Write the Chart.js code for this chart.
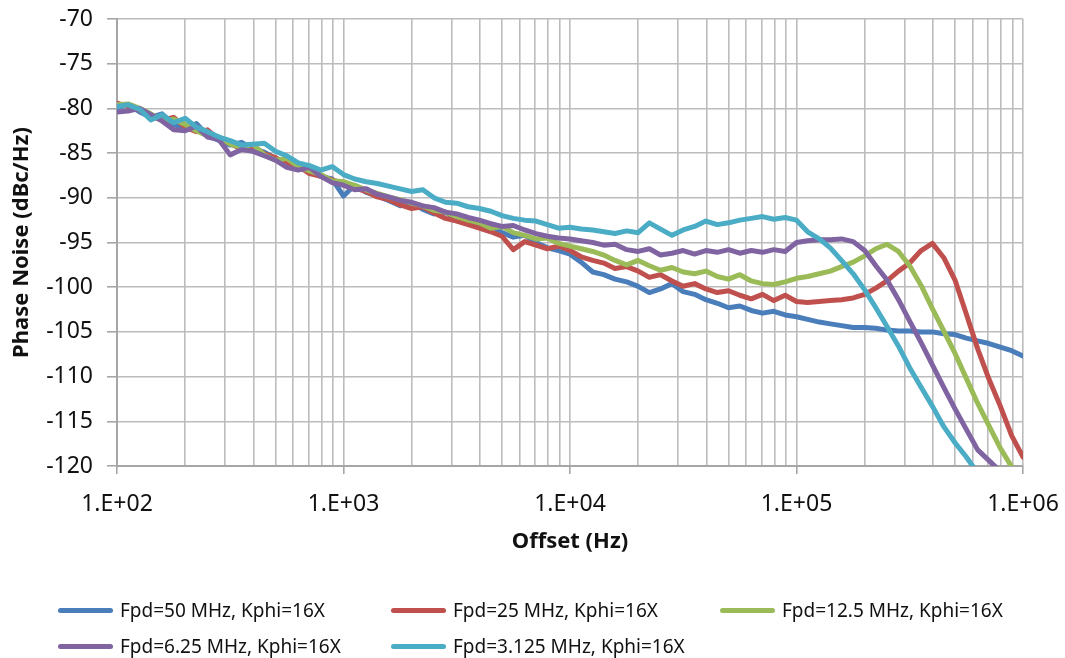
<!DOCTYPE html>
<html>
<head>
<meta charset="utf-8">
<script src="https://cdn.jsdelivr.net/npm/chart.js@4.4.0/dist/chart.umd.min.js"></script>
<style>
  body { margin: 0; background: #fff; }
  #wrap { position: relative; width: 1065px; height: 658px; }
  #legend { position: absolute; left: 0; top: 0; width: 1065px; height: 658px; pointer-events: none;
            font-family: "Noto Sans"; font-size: 19px; color: #111; }
  .item { position: absolute; display: flex; align-items: center; height: 28px; white-space: nowrap; }
  .swatch { width: 55px; height: 5px; border-radius: 3px; margin-right: 7px; }
</style>
</head>
<body>
<div id="wrap">
  <canvas id="noiseChart" width="1065" height="658"></canvas>
  <div id="legend"></div>
</div>
<script>
// offset frequencies (Hz), 20 points per decade
const offsets = [
  100, 112, 126, 141, 158, 178, 200, 224, 251, 282,
  316, 355, 398, 447, 501, 562, 631, 708, 794, 891,
  1000, 1120, 1260, 1410, 1580, 1780, 2000, 2240, 2510, 2820,
  3160, 3550, 3980, 4470, 5010, 5620, 6310, 7080, 7940, 8910,
  10000, 11200, 12600, 14100, 15800, 17800, 20000, 22400, 25100, 28200,
  31600, 35500, 39800, 44700, 50100, 56200, 63100, 70800, 79400, 89100,
  100000, 112000, 126000, 141000, 158000, 178000, 200000, 224000, 251000, 282000,
  316000, 355000, 398000, 447000, 501000, 562000, 631000, 708000, 794000, 891000,
  1000000
];

// phase noise (dBc/Hz)
const fpd50 = [
  -79.9, -79.6, -80.4, -81.0, -80.6, -81.8, -82.3, -81.7, -83.0, -83.6,
  -84.1, -83.8, -84.5, -84.9, -85.6, -86.0, -86.8, -86.9, -87.6, -87.9,
  -89.8, -88.6, -89.4, -89.8, -90.3, -90.9, -90.6, -91.3, -91.8, -91.6,
  -92.4, -92.8, -93.3, -93.1, -93.9, -94.4, -94.2, -95.0, -95.6, -95.9,
  -96.3, -97.2, -98.3, -98.6, -99.1, -99.4, -99.9, -100.6, -100.2, -99.6,
  -100.5, -100.8, -101.4, -101.8, -102.3, -102.1, -102.6, -102.9, -102.7, -103.1,
  -103.3, -103.6, -103.9, -104.1, -104.3, -104.5, -104.5, -104.6, -104.8, -104.9,
  -104.9, -105.0, -105.0, -105.2, -105.3, -105.7, -106.0, -106.3, -106.7, -107.1,
  -107.7
];
const fpd25 = [
  -79.4, -79.8, -80.2, -80.9, -81.3, -81.0, -82.1, -82.6, -82.4, -83.5,
  -83.9, -84.6, -84.2, -85.1, -85.5, -86.2, -86.4, -87.3, -87.6, -88.0,
  -88.4, -88.9, -89.3, -89.9, -90.2, -90.8, -91.2, -91.0, -91.7, -92.3,
  -92.6, -93.0, -93.4, -93.8, -94.3, -95.8, -94.9, -95.3, -95.7, -95.4,
  -95.9, -96.6, -97.0, -97.3, -97.9, -97.7, -98.2, -98.9, -98.6, -99.3,
  -99.9, -99.6, -100.2, -100.6, -100.4, -100.9, -101.3, -100.8, -101.5, -100.9,
  -101.6, -101.7, -101.6, -101.5, -101.4, -101.2, -100.8, -100.1, -99.3, -98.2,
  -97.3, -95.9, -95.1, -96.7, -99.2, -103.0, -106.9, -110.3, -113.3, -116.6,
  -119.0
];
const fpd12p5 = [
  -79.6, -79.5, -80.0, -80.6, -81.4, -81.2, -81.8, -82.5, -83.1, -83.2,
  -84.0, -84.4, -84.0, -85.2, -85.8, -85.6, -86.5, -87.0, -87.4, -88.1,
  -88.2, -88.6, -89.1, -89.5, -89.9, -90.2, -90.6, -90.9, -91.4, -91.6,
  -92.1, -92.5, -92.8, -93.4, -93.2, -93.9, -94.2, -94.6, -94.5, -95.1,
  -95.4, -95.7, -96.0, -96.4, -97.0, -97.5, -97.0, -97.6, -98.1, -97.8,
  -98.3, -98.5, -98.2, -98.8, -99.1, -98.6, -99.3, -99.6, -99.7, -99.4,
  -99.0, -98.8, -98.5, -98.2, -97.7, -97.2, -96.5, -95.7, -95.2, -96.0,
  -97.6, -99.8, -102.4, -104.9, -107.4, -110.2, -113.0, -115.5, -118.0, -120.1,
  null
];
const fpd6p25 = [
  -80.4, -80.3, -80.0, -80.7, -81.4, -82.4, -82.5, -82.0, -83.2, -83.5,
  -85.2, -84.6, -84.8, -85.3, -85.8, -86.6, -86.9, -86.6, -87.6, -88.3,
  -88.6, -89.1, -89.0, -89.6, -89.9, -90.3, -90.5, -90.9, -91.1, -91.6,
  -91.8, -92.2, -92.5, -92.9, -93.2, -93.1, -93.6, -94.0, -94.3, -94.5,
  -94.6, -94.8, -95.0, -95.3, -95.2, -95.8, -96.0, -95.7, -96.4, -96.2,
  -95.9, -96.3, -95.9, -96.1, -95.8, -96.2, -95.9, -96.1, -95.8, -96.0,
  -95.0, -94.8, -94.7, -94.7, -94.6, -94.9, -95.9, -97.6, -99.2, -101.4,
  -103.8, -106.2, -108.7, -111.2, -113.6, -115.9, -118.2, -119.4, -120.6, null,
  null
];
const fpd3p125 = [
  -79.8, -79.6, -80.1, -81.3, -80.7, -81.6, -81.1, -82.1, -82.6, -83.2,
  -83.6, -84.1, -84.0, -83.9, -84.8, -85.3, -86.1, -86.4, -86.9, -86.5,
  -87.4, -87.9, -88.2, -88.4, -88.7, -89.0, -89.3, -89.1, -90.0, -90.5,
  -90.6, -91.0, -91.2, -91.5, -92.0, -92.3, -92.5, -92.6, -93.0, -93.4,
  -93.3, -93.5, -93.6, -93.8, -94.0, -93.7, -93.9, -92.8, -93.5, -94.2,
  -93.6, -93.2, -92.6, -93.0, -92.8, -92.5, -92.3, -92.1, -92.4, -92.2,
  -92.5, -93.8, -94.6, -95.6, -97.0, -98.5, -100.3, -102.3, -104.4, -106.6,
  -109.0, -111.2, -113.3, -115.6, -117.4, -119.0, -120.8, null, null, null,
  null
];

const seriesLabels = [
  'Fpd=50 MHz, Kphi=16X',
  'Fpd=25 MHz, Kphi=16X',
  'Fpd=12.5 MHz, Kphi=16X',
  'Fpd=6.25 MHz, Kphi=16X',
  'Fpd=3.125 MHz, Kphi=16X'
];
const seriesValues = [fpd50, fpd25, fpd12p5, fpd6p25, fpd3p125];
const seriesColors = ['#4a7ebb', '#c0504d', '#9bbb59', '#8064a2', '#4bacc6'];

// x axis: decades get a label, every 1..9 multiple gets a grid line
const xDecades = [1e2, 1e3, 1e4, 1e5, 1e6];
const xTickLabels = ['1.E+02', '1.E+03', '1.E+04', '1.E+05', '1.E+06'];
const xGrid = [];
xDecades.forEach((d, k) => {
  if (k === xDecades.length - 1) { xGrid.push(d); return; }
  for (let m = 1; m <= 9; m++) xGrid.push(d * m);
});

const gridColor = '#bcbcbc';
const axisColor = '#a6a6a6';
const textColor = '#111';
const fontFamily = 'Noto Sans';

const datasets = seriesLabels.map((label, s) => ({
  label: label,
  data: offsets.map((f, i) => ({ x: f, y: seriesValues[s][i] })),
  borderColor: seriesColors[s],
  backgroundColor: seriesColors[s],
  borderWidth: 5,
  pointRadius: 0,
  fill: false,
  order: seriesLabels.length - s   // last series on top, like the original
}));

// keep the plot box where the original has it: no extra label padding
function noPad(scale) {
  scale.paddingTop = 0;
  scale.paddingBottom = 0;
  scale.paddingLeft = 0;
  scale.paddingRight = 0;
}

const ctx = document.getElementById('noiseChart').getContext('2d');
const noiseChart = new Chart(ctx, {
  type: 'line',
  data: { datasets: datasets },
  options: {
    responsive: false,
    animation: false,
    layout: { padding: { left: 0, right: 42, top: 19, bottom: 92 } },
    plugins: {
      legend: { display: false },
      tooltip: { enabled: false }
    },
    elements: {
      line: { tension: 0, borderCapStyle: 'round', borderJoinStyle: 'round' }
    },
    scales: {
      x: {
        type: 'logarithmic',
        min: 100,
        max: 1e6,
        afterBuildTicks: (scale) => { scale.ticks = xGrid.map(v => ({ value: v })); },
        afterFit: (scale) => { scale.height = 100; noPad(scale); },
        ticks: {
          autoSkip: false,
          maxRotation: 0,
          padding: 17,
          color: textColor,
          font: { family: fontFamily, size: 23 },
          callback: (value) => {
            const k = xDecades.indexOf(value);
            return k >= 0 ? xTickLabels[k] : '';
          }
        },
        grid: {
          color: gridColor,
          lineWidth: 1.6,
          tickLength: 8,
          tickColor: (c) => (c.tick && xDecades.includes(c.tick.value)) ? axisColor : 'rgba(0,0,0,0)'
        },
        border: { color: axisColor, width: 2 },
        title: {
          display: true,
          text: 'Offset (Hz)',
          color: textColor,
          font: { family: fontFamily, size: 22, weight: 'bold' },
          padding: { top: 0, bottom: 11 }
        }
      },
      y: {
        min: -120,
        max: -70,
        afterFit: (scale) => { scale.width = 117; noPad(scale); },
        ticks: {
          stepSize: 5,
          padding: 14,
          color: textColor,
          font: { family: fontFamily, size: 23 }
        },
        grid: { color: gridColor, lineWidth: 1.6, tickLength: 10, tickColor: axisColor },
        border: { color: axisColor, width: 2 },
        title: {
          display: true,
          text: 'Phase Noise (dBc/Hz)',
          color: textColor,
          font: { family: fontFamily, size: 22, weight: 'bold' },
          padding: { top: 9, bottom: 0 }
        }
      }
    }
  }
});

// legend laid out in aligned columns like the original
const legendEl = document.getElementById('legend');
const colLeft = [58, 391, 720];
const rowTop = [596, 632];
noiseChart.data.datasets.forEach((ds, i) => {
  const item = document.createElement('div');
  item.className = 'item';
  item.style.left = colLeft[i % 3] + 'px';
  item.style.top = rowTop[Math.floor(i / 3)] + 'px';
  const sw = document.createElement('span');
  sw.className = 'swatch';
  sw.style.background = ds.borderColor;
  const txt = document.createElement('span');
  txt.textContent = ds.label;
  item.appendChild(sw);
  item.appendChild(txt);
  legendEl.appendChild(item);
});
</script>
</body>
</html>
